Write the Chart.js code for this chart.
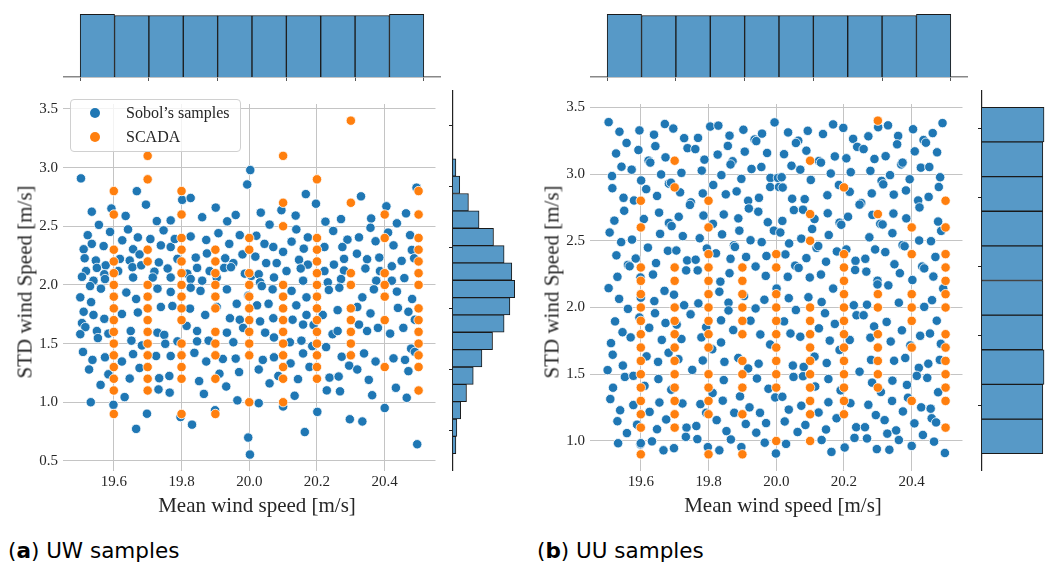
<!DOCTYPE html>
<html>
<head>
<meta charset="utf-8">
<title>UW and UU samples</title>
<script src="https://cdn.jsdelivr.net/npm/chart.js@4.4.0/dist/chart.umd.min.js"></script>
<style>
  body { margin: 0; background: #fff; width: 1052px; height: 566px; position: relative; overflow: hidden; font-family: "Liberation Serif", serif; color: #262626; }
  canvas { position: absolute; }
  .txt { position: absolute; white-space: nowrap; font-size: 21px; }
  .xtitle { transform: translate(-50%, -50%); }
  .ytitle { transform: translate(-50%, -50%) rotate(-90deg); }
  .legend { position: absolute; background: rgba(255,255,255,0.8); border: 1px solid #d0d0d0; border-radius: 4px; }
  .dot { position: absolute; width: 10px; height: 10px; border-radius: 50%; }
  .lt { position: absolute; font-size: 16px; transform: translateY(-50%); }
  .caption { position: absolute; font-family: "DejaVu Sans", sans-serif; font-size: 21.5px; white-space: nowrap; color: #000; }
</style>
</head>
<body>
<canvas id="uwTop" width="378" height="71" style="left:63px;top:11px"></canvas>
<canvas id="uwScatter" width="441" height="411" style="left:0px;top:90px"></canvas>
<canvas id="uwSide" width="69" height="381" style="left:449px;top:90px"></canvas>

<canvas id="uuTop" width="378" height="71" style="left:590px;top:11px"></canvas>
<canvas id="uuScatter" width="441" height="411" style="left:527px;top:90px"></canvas>
<canvas id="uuSide" width="69" height="381" style="left:978px;top:90px"></canvas>

<div class="legend" style="left:70px;top:99px;width:169px;height:51px"></div>
<div class="dot" style="left:90px;top:108px;background:#1f77b4"></div>
<div class="lt" style="left:126px;top:113px">Sobol’s samples</div>
<div class="dot" style="left:90px;top:132px;background:#ff7f0e"></div>
<div class="lt" style="left:126px;top:137px">SCADA</div>

<div class="txt ytitle" style="left:25px;top:282px">STD wind Speed [m/s]</div>
<div class="txt xtitle" style="left:257px;top:505px">Mean wind speed [m/s]</div>
<div class="txt ytitle" style="left:552px;top:282px">STD wind Speed [m/s]</div>
<div class="txt xtitle" style="left:783px;top:505px">Mean wind speed [m/s]</div>

<div class="caption" style="left:8px;top:538px">(<b>a</b>) UW samples</div>
<div class="caption" style="left:537px;top:538px">(<b>b</b>) UU samples</div>

<script>
const blue = "#1f77b4";
const orange = "#ff7f0e";
const histFill = "rgb(87,153,199)";

const meanTicks = [19.6, 19.8, 20.0, 20.2, 20.4];
const uwStdTicks = [0.5, 1.0, 1.5, 2.0, 2.5, 3.0, 3.5];
const uuStdTicks = [1.0, 1.5, 2.0, 2.5, 3.0, 3.5];

// SCADA points, one column per mean wind speed
const scadaX = [19.6, 19.7, 19.8, 19.9, 20.0, 20.1, 20.2, 20.3, 20.4, 20.5];
const scadaY = [
  [2.8, 2.6, 2.3, 2.2, 2.1, 2.0, 1.9, 1.8, 1.7, 1.6, 1.5, 1.4, 1.3, 1.2, 1.1, 0.9],
  [3.1, 2.9, 2.3, 2.2, 2.0, 1.9, 1.8, 1.7, 1.6, 1.5, 1.4, 1.3, 1.2, 1.1],
  [2.8, 2.6, 2.4, 2.3, 2.2, 2.1, 2.0, 1.9, 1.8, 1.7, 1.5, 1.4, 1.3, 1.2, 0.9],
  [2.3, 2.2, 2.1, 2.0, 1.9, 1.8, 1.6, 1.5, 1.4, 1.2, 0.9],
  [2.4, 2.3, 2.1, 2.0, 1.9, 1.8, 1.7, 1.6, 1.5, 1.4, 1.0],
  [3.1, 2.7, 2.5, 2.0, 1.9, 1.8, 1.7, 1.6, 1.5, 1.4, 1.3, 1.2, 1.0],
  [2.9, 2.4, 2.3, 2.2, 2.1, 2.0, 1.9, 1.8, 1.7, 1.6, 1.5, 1.4, 1.3, 1.2],
  [3.4, 2.7, 2.1, 2.0, 1.8, 1.7, 1.6, 1.5, 1.4],
  [2.6, 2.4, 2.1, 2.0, 1.9, 1.7, 1.3],
  [2.8, 2.6, 2.4, 2.3, 2.2, 2.1, 2.0, 1.8, 1.7, 1.6, 1.5, 1.4, 1.3, 1.1]
];

// Sobol samples, UW case (mean, std)
const uwSobol = [
  [19.503,2.908],[19.535,2.624],[19.556,2.512],[19.593,2.651],[19.635,2.588],[19.668,2.799],[19.695,2.684],[19.727,2.544],
  [19.768,2.550],[19.747,2.465],[19.802,2.725],[19.827,2.741],[19.861,2.577],[19.901,2.659],[19.935,2.542],[19.960,2.596],
  [19.994,2.856],[20.003,2.979],[19.523,2.424],[19.589,2.452],[19.625,2.380],[19.671,2.405],[19.708,2.391],[19.642,2.473],
  [19.535,2.350],[19.570,2.331],[19.511,2.304],[19.657,2.304],[19.676,2.260],[19.739,2.337],[19.768,2.323],[19.780,2.391],
  [19.827,2.413],[19.873,2.383],[19.909,2.441],[19.941,2.350],[19.972,2.424],[19.980,2.260],[19.514,2.227],[19.547,2.208],
  [19.576,2.167],[19.618,2.222],[19.647,2.208],[19.733,2.192],[19.788,2.222],[19.842,2.233],[19.875,2.268],[19.929,2.227],
  [19.953,2.186],[19.518,2.118],[19.550,2.145],[19.572,2.091],[19.613,2.118],[19.655,2.151],[19.681,2.167],[19.720,2.113],
  [19.759,2.140],[19.817,2.096],[19.846,2.145],[19.883,2.118],[19.926,2.145],[19.946,2.151],[19.987,2.096],[19.506,2.069],
  [19.540,2.036],[19.574,2.050],[19.657,2.063],[19.715,2.063],[19.768,2.063],[19.827,2.050],[19.861,2.036],[19.904,2.063],
  [20.006,2.077],
  [20.167,2.774],[20.197,2.692],[20.330,2.755],[20.034,2.616],[20.095,2.637],[20.137,2.591],[20.405,2.670],[20.360,2.566],
  [20.463,2.610],[20.494,2.829],[20.060,2.514],[20.139,2.473],[20.225,2.539],[20.271,2.561],[20.248,2.460],[20.358,2.487],
  [20.436,2.525],[20.021,2.419],[20.045,2.350],[20.071,2.323],[20.125,2.369],[20.173,2.405],[20.161,2.309],[20.222,2.323],
  [20.290,2.386],[20.324,2.405],[20.275,2.323],[20.318,2.266],[20.373,2.372],[20.410,2.446],[20.475,2.424],[20.426,2.337],
  [20.480,2.298],[20.018,2.241],[20.050,2.186],[20.081,2.186],[20.100,2.282],[20.147,2.214],[20.173,2.173],[20.250,2.173],
  [20.280,2.222],[20.348,2.219],[20.384,2.233],[20.450,2.205],[20.487,2.227],[20.110,2.118],[20.028,2.091],[20.073,2.063],
  [20.152,2.140],[20.222,2.118],[20.280,2.123],[20.343,2.140],[20.386,2.118],[20.421,2.159],[20.458,2.058],[20.032,2.022],
  [20.159,2.036],[20.232,2.022],[20.271,2.050],[20.375,2.036],[20.421,2.036],
  [19.501,1.894],[19.530,1.990],[19.562,1.968],[19.637,1.935],[19.666,1.880],[19.729,1.968],[19.768,1.940],[19.827,1.976],
  [19.856,1.949],[19.934,1.962],[19.963,1.839],[19.997,1.908],[19.533,1.853],[19.511,1.771],[19.540,1.744],[19.572,1.711],
  [19.624,1.752],[19.671,1.765],[19.739,1.812],[19.773,1.820],[19.825,1.798],[19.870,1.744],[19.904,1.812],[19.943,1.716],
  [19.972,1.703],[19.506,1.675],[19.516,1.640],[19.550,1.607],[19.584,1.585],[19.650,1.607],[19.729,1.593],[19.749,1.574],
  [19.815,1.651],[19.846,1.607],[19.934,1.593],[19.982,1.634],[19.501,1.580],[19.553,1.547],[19.652,1.525],[19.683,1.484],
  [19.752,1.498],[19.788,1.519],[19.846,1.519],[19.880,1.525],[19.953,1.511],[19.509,1.429],[19.537,1.361],[19.574,1.383],
  [19.624,1.347],[19.657,1.410],[19.725,1.394],[19.768,1.394],[19.838,1.421],[19.873,1.347],[19.922,1.369],[19.960,1.372],
  [19.527,1.279],[19.584,1.238],[19.676,1.292],[19.647,1.202],[19.734,1.205],[19.764,1.224],[19.852,1.180],[19.912,1.243],
  [19.970,1.257],[19.561,1.148],[19.632,1.044],[19.732,1.109],[19.765,1.082],[19.866,1.071],[19.932,1.134],[19.532,1.000],
  [19.599,0.978],[19.698,0.902],[19.797,0.874],[19.831,0.809],[19.899,0.932],[19.965,1.016],[19.666,0.773],[19.997,0.699],
  [20.002,0.554],
  [20.037,1.990],[20.069,1.962],[20.125,1.949],[20.169,1.894],[20.235,1.957],[20.266,1.976],[20.334,1.894],[20.368,1.962],
  [20.436,1.943],[20.481,1.880],[20.023,1.826],[20.057,1.839],[20.139,1.826],[20.169,1.744],[20.217,1.744],[20.261,1.785],
  [20.319,1.812],[20.358,1.757],[20.439,1.804],[20.470,1.771],[20.032,1.689],[20.071,1.716],[20.128,1.703],[20.159,1.662],
  [20.190,1.659],[20.246,1.580],[20.261,1.607],[20.324,1.662],[20.348,1.607],[20.380,1.634],[20.416,1.585],[20.455,1.634],
  [20.489,1.703],[20.047,1.593],[20.073,1.552],[20.120,1.511],[20.154,1.525],[20.186,1.478],[20.227,1.470],[20.273,1.388],
  [20.339,1.416],[20.373,1.347],[20.426,1.374],[20.460,1.361],[20.478,1.457],[20.489,1.429],[20.028,1.279],[20.040,1.361],
  [20.073,1.383],[20.122,1.331],[20.159,1.416],[20.178,1.301],[20.237,1.210],[20.264,1.219],[20.295,1.312],[20.319,1.279],
  [20.353,1.191],[20.433,1.123],[20.470,1.265],[20.060,1.161],[20.086,1.224],[20.144,1.197],[20.229,1.101],[20.268,1.093],
  [20.363,1.060],[20.465,1.038],[20.028,0.992],[20.100,0.964],[20.134,1.055],[20.201,0.918],[20.297,0.855],[20.334,0.836],
  [20.400,0.951],[20.164,0.746],[20.496,0.642]
];

// Sobol samples, UU case (mean, std)
const uuSobol = [
  [19.505,3.389],[19.537,3.317],[19.596,3.327],[19.671,3.375],[19.696,3.341],[19.639,3.295],[19.558,3.233],[19.593,3.180],
  [19.643,3.209],[19.527,3.154],[19.623,3.101],[19.628,3.086],[19.673,3.125],[19.728,3.269],[19.769,3.271],[19.738,3.194],
  [19.761,3.187],[19.805,3.356],[19.829,3.363],[19.862,3.288],[19.903,3.332],[19.958,3.303],[19.995,3.387],[19.857,3.211],
  [19.936,3.259],[19.941,3.247],[19.973,3.158],[19.907,3.168],[19.827,3.146],[19.788,3.108],[19.871,3.096],[19.865,3.072],
  [19.927,3.038],[19.956,3.053],[19.543,3.055],[19.573,3.033],[19.660,2.997],[19.720,3.009],[19.780,3.026],[19.838,2.992],
  [19.515,2.985],[19.601,2.952],[19.683,2.928],[19.689,2.935],[19.716,2.863],[19.814,2.918],[19.897,2.964],[19.983,2.971],
  [20.005,2.971],[19.516,2.894],[19.616,2.887],[19.648,2.836],[19.549,2.822],[19.580,2.802],[19.748,2.788],[19.745,2.769],
  [19.783,2.855],[19.851,2.848],[19.883,2.870],[19.917,2.800],[19.949,2.822],[19.982,2.903],[20.008,2.903],[19.551,2.725],
  [19.654,2.711],[19.712,2.680],[19.785,2.689],[19.845,2.697],[19.919,2.742],[19.947,2.718],[19.522,2.651],[19.609,2.663],
  [19.683,2.634],[19.691,2.610],[19.813,2.627],[19.888,2.668],[19.975,2.639],[19.993,2.576],[19.508,2.562],[19.657,2.552],
  [19.724,2.535],[19.774,2.519],[19.840,2.548],[19.891,2.576],[19.542,2.490],[19.574,2.509],[19.621,2.449],[19.680,2.425],
  [19.705,2.427],[19.795,2.442],[19.822,2.406],[19.875,2.466],[19.878,2.454],[19.924,2.504],[19.957,2.490],[19.528,2.391],
  [19.585,2.367],[19.562,2.319],[19.567,2.309],[19.645,2.333],[19.737,2.353],[19.762,2.358],[19.865,2.365],[19.911,2.379],
  [19.971,2.386],[19.531,2.230],[19.636,2.247],[19.734,2.278],[19.768,2.278],[19.862,2.257],[19.939,2.307],[19.969,2.237],
  [19.599,2.225],[19.835,2.194],
  [20.035,3.312],[20.093,3.324],[20.138,3.300],[20.168,3.372],[20.198,3.346],[20.272,3.283],[20.227,3.264],[20.301,3.351],
  [20.330,3.365],[20.360,3.286],[20.404,3.336],[20.462,3.307],[20.491,3.382],[20.435,3.255],[20.442,3.235],[20.409,3.170],
  [20.475,3.163],[20.357,3.223],[20.323,3.134],[20.290,3.113],[20.239,3.204],[20.258,3.187],[20.207,3.118],[20.173,3.132],
  [20.126,3.098],[20.132,3.086],[20.089,3.175],[20.065,3.250],[20.058,3.233],[20.023,3.149],[20.045,3.062],[20.071,3.033],
  [20.161,3.004],[20.220,3.014],[20.278,3.024],[20.336,2.992],[20.369,3.072],[20.373,3.086],[20.427,3.048],[20.452,3.053],
  [20.484,2.976],[20.016,2.976],[20.102,2.956],[20.185,2.918],[20.217,2.867],[20.311,2.949],[20.316,2.923],[20.394,2.961],
  [20.383,2.877],[20.480,2.903],[20.019,2.899],[20.047,2.815],[20.084,2.812],[20.151,2.841],[20.251,2.783],[20.246,2.771],
  [20.282,2.855],[20.347,2.846],[20.419,2.802],[20.450,2.829],[20.423,2.750],[20.052,2.730],[20.079,2.733],[20.113,2.663],
  [20.152,2.706],[20.212,2.680],[20.187,2.636],[20.192,2.620],[20.284,2.694],[20.307,2.627],[20.314,2.622],[20.346,2.704],
  [20.384,2.668],[20.478,2.644],[20.487,2.574],[20.018,2.649],[20.012,2.562],[20.106,2.588],[20.155,2.543],[20.275,2.526],
  [20.343,2.557],[20.422,2.502],[20.457,2.497],[20.038,2.480],[20.074,2.516],[20.119,2.447],[20.124,2.461],[20.179,2.420],
  [20.207,2.435],[20.292,2.435],[20.322,2.415],[20.373,2.468],[20.379,2.459],[20.470,2.379],[20.027,2.398],[20.089,2.370],
  [20.147,2.343],[20.234,2.350],[20.263,2.365],[20.349,2.324],[20.431,2.307],[20.437,2.293],[20.056,2.314],[20.066,2.297],
  [20.233,2.281],[20.266,2.269],[20.365,2.257],[20.464,2.232],[20.034,2.230],[20.099,2.225],[20.132,2.247],[20.299,2.201],
  [20.402,2.206],
  [19.505,2.145],[19.536,2.065],[19.600,2.074],[19.640,2.048],[19.670,2.125],[19.698,2.096],[19.728,2.017],[19.770,2.031],
  [19.747,1.949],[19.832,2.118],[19.859,2.036],[19.859,1.978],[19.905,2.086],[19.939,1.993],[19.965,2.058],[20.001,2.142],
  [19.562,1.990],[19.524,1.896],[19.642,1.957],[19.596,1.925],[19.673,1.884],[19.625,1.848],[19.706,1.872],[19.793,1.853],
  [19.837,1.904],[19.873,1.831],[19.924,1.901],[19.953,1.798],[19.982,1.723],[19.546,1.815],[19.570,1.776],[19.512,1.733],
  [19.517,1.646],[19.662,1.757],[19.720,1.764],[19.779,1.776],[19.811,1.687],[19.837,1.738],[19.888,1.622],[19.948,1.579],
  [19.682,1.661],[19.617,1.634],[19.651,1.593],[19.711,1.613],[19.783,1.603],[19.847,1.593],[19.917,1.543],[19.502,1.531],
  [19.547,1.565],[19.553,1.480],[19.578,1.488],[19.752,1.533],[19.652,1.464],[19.845,1.456],[19.943,1.468],[19.977,1.391],
  [19.518,1.399],[19.611,1.413],[19.690,1.384],[19.812,1.360],[19.893,1.334],[19.510,1.314],[19.578,1.269],[19.655,1.288],
  [19.723,1.281],[19.776,1.276],[19.842,1.302],[19.921,1.252],[19.997,1.326],[19.539,1.230],[19.626,1.218],[19.675,1.161],
  [19.793,1.211],[19.876,1.211],[19.952,1.211],[19.531,1.148],[19.589,1.122],[19.559,1.059],[19.648,1.088],[19.735,1.100],
  [19.764,1.112],[19.824,1.156],[19.853,1.074],[19.910,1.127],[19.970,1.134],[19.941,1.062],[19.533,0.983],[19.633,0.997],
  [19.733,1.031],[19.767,1.014],[19.866,1.011],[19.966,0.987],[19.599,0.975],[19.667,0.930],[19.698,0.946],[19.798,0.954],
  [19.832,0.930],[19.897,0.954],[19.999,0.906],[19.600,0.983],
  [20.037,2.070],[20.095,2.077],[20.134,2.041],[20.168,2.142],[20.229,2.017],[20.268,2.021],[20.299,2.173],[20.331,2.166],
  [20.362,2.036],[20.437,2.005],[20.460,2.055],[20.493,2.142],[20.058,1.981],[20.144,1.957],[20.237,1.942],[20.258,1.942],
  [20.023,1.896],[20.126,1.844],[20.173,1.877],[20.326,1.892],[20.289,1.858],[20.371,1.829],[20.425,1.788],[20.454,1.805],
  [20.474,1.901],[20.042,1.805],[20.071,1.781],[20.158,1.752],[20.217,1.757],[20.278,1.774],[20.338,1.745],[20.396,1.716],
  [20.486,1.728],[20.187,1.682],[20.113,1.632],[20.149,1.584],[20.280,1.608],[20.348,1.601],[20.381,1.622],[20.421,1.548],
  [20.449,1.579],[20.483,1.608],[20.049,1.565],[20.081,1.555],[20.246,1.519],[20.154,1.464],[20.283,1.437],[20.343,1.452],
  [20.386,1.420],[20.415,1.488],[20.446,1.473],[20.051,1.480],[20.079,1.485],[20.115,1.408],[20.190,1.379],[20.309,1.367],
  [20.342,1.300],[20.389,1.324],[20.478,1.365],[20.154,1.290],[20.219,1.283],[20.272,1.271],[20.428,1.252],[20.456,1.242],
  [20.018,1.331],[20.037,1.235],[20.074,1.264],[20.125,1.213],[20.178,1.170],[20.294,1.194],[20.320,1.156],[20.374,1.221],
  [20.459,1.170],[20.408,1.132],[20.472,1.139],[20.025,1.146],[20.086,1.120],[20.147,1.086],[20.236,1.103],[20.262,1.103],
  [20.354,1.079],[20.433,1.045],[20.063,1.067],[20.231,1.023],[20.268,1.019],[20.328,1.055],[20.362,1.007],[20.466,0.995],
  [20.029,0.978],[20.134,1.007],[20.163,0.918],[20.202,0.951],[20.297,0.939],[20.334,0.934],[20.400,0.963],[20.498,0.910]
];

// marginal histograms (Sobol samples only)
const meanBinStart = 19.5, meanBinWidth = 0.1;
const uwMeanCounts = [52, 51, 51, 51, 51, 51, 51, 51, 51, 52];
const uuMeanCounts = [52, 51, 51, 51, 51, 51, 51, 51, 51, 52];
const uwStdBinStart = 0.556, uwStdBinWidth = 0.1424;
const uwStdCounts = [3, 4, 8, 14, 21, 30, 41, 53, 59, 64, 61, 53, 42, 27, 16, 7, 3];
const uuStdBinStart = 0.9, uuStdBinWidth = 0.25;
const uuStdCounts = [51, 51, 52, 51, 51, 51, 51, 51, 51, 52];

Chart.defaults.font.family = "'Liberation Serif', serif";
Chart.defaults.color = "#262626";
Chart.defaults.animation = false;
Chart.defaults.responsive = false;
Chart.defaults.devicePixelRatio = 1;
Chart.defaults.plugins.legend.display = false;
Chart.defaults.plugins.tooltip.enabled = false;

const scadaPoints = [];
scadaX.forEach((x, i) => {
  scadaY[i].forEach((y) => scadaPoints.push({ x: x, y: y }));
});

function fixedTicks(values) {
  return function (scale) {
    scale.ticks = values.map((v) => ({ value: v }));
  };
}

function makeScatter(id, sobol, yMin, yMax, yTicks) {
  return new Chart(document.getElementById(id), {
    type: "scatter",
    data: {
      datasets: [
        {
          label: "Sobol’s samples",
          data: sobol.map((p) => ({ x: p[0], y: p[1] })),
          backgroundColor: blue,
          borderColor: "#ffffff",
          borderWidth: 0.8,
          pointRadius: 4.7,
          order: 2,
        },
        {
          label: "SCADA",
          data: scadaPoints,
          backgroundColor: orange,
          borderColor: "#ffffff",
          borderWidth: 0.8,
          pointRadius: 4.7,
          order: 1,
        },
      ],
    },
    options: {
      layout: { padding: 0 },
      scales: {
        x: {
          type: "linear",
          min: 19.45,
          max: 20.55,
          afterBuildTicks: fixedTicks(meanTicks),
          afterFit: (s) => { s.height = 30; },
          grid: { color: "#c4c4c4", lineWidth: 1, drawTicks: false },
          border: { display: false },
          ticks: { padding: 2, font: { size: 15 }, callback: (v) => v.toFixed(1) },
        },
        y: {
          min: yMin,
          max: yMax,
          afterBuildTicks: fixedTicks(yTicks),
          afterFit: (s) => { s.width = 63; },
          grid: { color: "#c4c4c4", lineWidth: 1, drawTicks: false },
          border: { display: false },
          ticks: { padding: 5, font: { size: 15 }, callback: (v) => v.toFixed(1) },
        },
      },
    },
  });
}

function makeTopHist(id, counts) {
  return new Chart(document.getElementById(id), {
    type: "bar",
    data: {
      datasets: [
        {
          data: counts.map((c, i) => ({ x: meanBinStart + meanBinWidth * (i + 0.5), y: c })),
          backgroundColor: histFill,
          borderColor: "#1a1a1a",
          borderWidth: 1,
          barPercentage: 1,
          categoryPercentage: 1,
        },
      ],
    },
    options: {
      layout: { padding: 0 },
      scales: {
        x: {
          type: "linear",
          min: 19.45,
          max: 20.55,
          offset: false,
          afterBuildTicks: fixedTicks(meanTicks),
          afterFit: (s) => { s.height = 5; },
          grid: { drawOnChartArea: false, drawTicks: true, tickLength: 4, color: "#555" },
          border: { display: true, color: "#888", width: 1.5 },
          ticks: { display: false },
        },
        y: { display: false, min: 0, max: 54.7 },
      },
    },
  });
}

function makeSideHist(id, counts, start, width, yMin, yMax, yTicks, xMax) {
  return new Chart(document.getElementById(id), {
    type: "bar",
    data: {
      datasets: [
        {
          data: counts.map((c, i) => ({ x: c, y: start + width * (i + 0.5) })),
          backgroundColor: histFill,
          borderColor: "#1a1a1a",
          borderWidth: 1,
          barPercentage: 1,
          categoryPercentage: 1,
        },
      ],
    },
    options: {
      indexAxis: "y",
      layout: { padding: 0 },
      scales: {
        y: {
          type: "linear",
          position: "left",
          min: yMin,
          max: yMax,
          offset: false,
          afterBuildTicks: fixedTicks(yTicks),
          afterFit: (s) => { s.width = 4; },
          grid: { drawOnChartArea: false, drawTicks: true, tickLength: 4, color: "#222" },
          border: { display: true, color: "#222", width: 1.2 },
          ticks: { display: false },
        },
        x: { display: false, min: 0, max: xMax },
      },
    },
  });
}

makeScatter("uwScatter", uwSobol, 0.414, 3.542, uwStdTicks);
makeScatter("uuScatter", uuSobol, 0.775, 3.525, uuStdTicks);
makeTopHist("uwTop", uwMeanCounts);
makeTopHist("uuTop", uuMeanCounts);
makeSideHist("uwSide", uwStdCounts, uwStdBinStart, uwStdBinWidth, 0.414, 3.542, uwStdTicks, 67.4);
makeSideHist("uuSide", uuStdCounts, uuStdBinStart, uuStdBinWidth, 0.775, 3.525, uuStdTicks, 54.5);
</script>
</body>
</html>
